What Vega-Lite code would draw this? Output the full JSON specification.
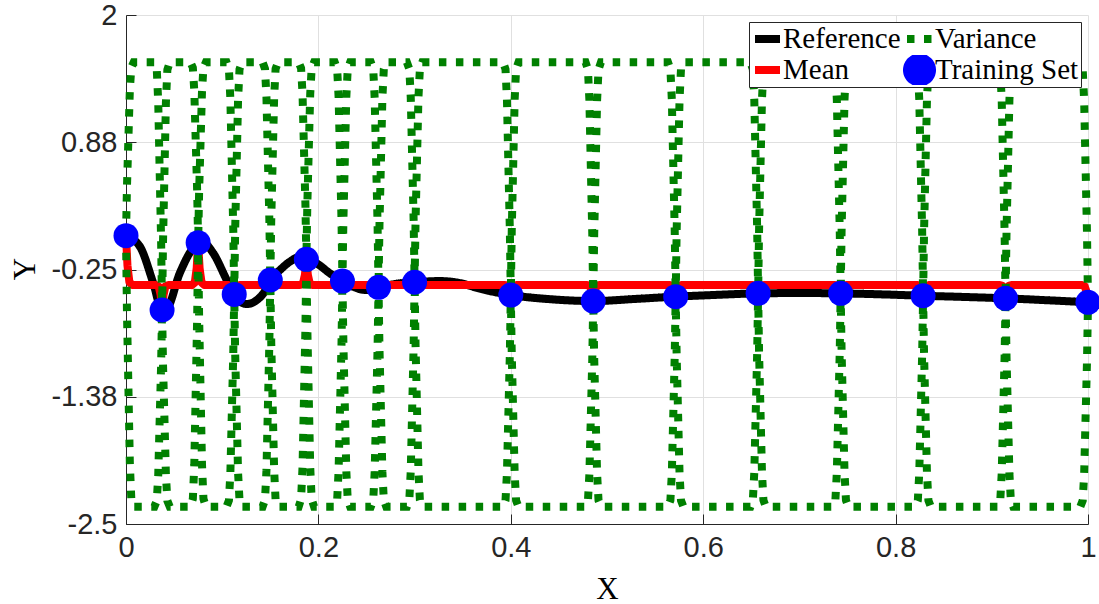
{
  "$schema": "https://vega.github.io/schema/vega-lite/v6.json",
  "width": 962,
  "height": 509,
  "autosize": {"type": "none"},
  "padding": {"left": 126, "top": 15, "right": 11, "bottom": 80},
  "background": "#ffffff",
  "config": {
    "view": {"stroke": null},
    "axis": {
      "domainColor": "#262626",
      "domainWidth": 1,
      "tickColor": "#262626",
      "tickSize": -10,
      "tickWidth": 1,
      "labelFont": "Liberation Sans",
      "labelFontSize": 29,
      "labelColor": "#262626",
      "labelPadding": 19,
      "labelOverlap": false,
      "labelFlush": false,
      "labelBound": false,
      "gridColor": "#e0e0e0",
      "gridWidth": 1,
      "titleFont": "Liberation Serif",
      "titleFontSize": 31,
      "titleFontWeight": "normal",
      "titleColor": "#000000"
    },
    "legend": {
      "orient": "top-right",
      "offset": 7,
      "columns": 2,
      "padding": 2,
      "rowPadding": 1,
      "columnPadding": 2,
      "clipHeight": 30,
      "labelFont": "Liberation Serif",
      "labelFontSize": 29,
      "labelColor": "#000000",
      "labelOffset": -1,
      "labelLimit": 0,
      "strokeColor": "#262626",
      "fillColor": "#ffffff",
      "symbolOpacity": 1
    }
  },
  "datasets": {
    "reference": [
      {"x": 0, "y": 0.049},
      {"x": 0.0146, "y": -0.049},
      {"x": 0.0284, "y": -0.372},
      {"x": 0.0375, "y": -0.608},
      {"x": 0.042, "y": -0.6},
      {"x": 0.056, "y": -0.28},
      {"x": 0.068, "y": -0.08},
      {"x": 0.075, "y": -0.013},
      {"x": 0.079, "y": -0.005},
      {"x": 0.0908, "y": -0.107},
      {"x": 0.1047, "y": -0.343},
      {"x": 0.1125, "y": -0.47},
      {"x": 0.1185, "y": -0.535},
      {"x": 0.1255, "y": -0.555},
      {"x": 0.136, "y": -0.52},
      {"x": 0.146, "y": -0.417},
      {"x": 0.15, "y": -0.343},
      {"x": 0.16, "y": -0.255},
      {"x": 0.1705, "y": -0.18},
      {"x": 0.181, "y": -0.137},
      {"x": 0.1875, "y": -0.16},
      {"x": 0.198, "y": -0.195},
      {"x": 0.212, "y": -0.284},
      {"x": 0.225, "y": -0.352},
      {"x": 0.236, "y": -0.402},
      {"x": 0.25, "y": -0.432},
      {"x": 0.2625, "y": -0.408},
      {"x": 0.28, "y": -0.378},
      {"x": 0.3, "y": -0.363},
      {"x": 0.326, "y": -0.352},
      {"x": 0.347, "y": -0.37},
      {"x": 0.368, "y": -0.42},
      {"x": 0.4, "y": -0.476},
      {"x": 0.44, "y": -0.512},
      {"x": 0.4857, "y": -0.529},
      {"x": 0.53, "y": -0.51},
      {"x": 0.5714, "y": -0.49},
      {"x": 0.615, "y": -0.474},
      {"x": 0.6571, "y": -0.461},
      {"x": 0.7, "y": -0.458},
      {"x": 0.7429, "y": -0.461},
      {"x": 0.786, "y": -0.47},
      {"x": 0.8286, "y": -0.482},
      {"x": 0.872, "y": -0.493},
      {"x": 0.9143, "y": -0.505},
      {"x": 0.958, "y": -0.522},
      {"x": 1, "y": -0.54}
    ],
    "mean": [
      {"x": 0, "y": 0.049}, {"x": 0.0015, "y": -0.213}, {"x": 0.0035, "y": -0.361}, {"x": 0.0065, "y": -0.387},
      {"x": 0.031, "y": -0.387}, {"x": 0.034, "y": -0.4}, {"x": 0.036, "y": -0.475}, {"x": 0.0375, "y": -0.608}, {"x": 0.039, "y": -0.475}, {"x": 0.041, "y": -0.4}, {"x": 0.044, "y": -0.387},
      {"x": 0.0685, "y": -0.387}, {"x": 0.0715, "y": -0.365}, {"x": 0.0735, "y": -0.237}, {"x": 0.075, "y": -0.013}, {"x": 0.0765, "y": -0.237}, {"x": 0.0785, "y": -0.365}, {"x": 0.0815, "y": -0.387},
      {"x": 0.106, "y": -0.387}, {"x": 0.109, "y": -0.392}, {"x": 0.111, "y": -0.42}, {"x": 0.1125, "y": -0.47}, {"x": 0.114, "y": -0.42}, {"x": 0.116, "y": -0.392}, {"x": 0.119, "y": -0.387},
      {"x": 0.1435, "y": -0.387}, {"x": 0.1465, "y": -0.384}, {"x": 0.1485, "y": -0.369}, {"x": 0.15, "y": -0.343}, {"x": 0.1515, "y": -0.369}, {"x": 0.1535, "y": -0.384}, {"x": 0.1565, "y": -0.387},
      {"x": 0.181, "y": -0.387}, {"x": 0.184, "y": -0.373}, {"x": 0.186, "y": -0.296}, {"x": 0.1875, "y": -0.16}, {"x": 0.189, "y": -0.296}, {"x": 0.191, "y": -0.373}, {"x": 0.194, "y": -0.387},
      {"x": 0.2185, "y": -0.387}, {"x": 0.2215, "y": -0.385}, {"x": 0.2235, "y": -0.373}, {"x": 0.225, "y": -0.352}, {"x": 0.2265, "y": -0.373}, {"x": 0.2285, "y": -0.385}, {"x": 0.2315, "y": -0.387},
      {"x": 0.256, "y": -0.387}, {"x": 0.261, "y": -0.395}, {"x": 0.2625, "y": -0.408}, {"x": 0.264, "y": -0.395}, {"x": 0.269, "y": -0.387},
      {"x": 0.2935, "y": -0.387}, {"x": 0.2985, "y": -0.377}, {"x": 0.3, "y": -0.363}, {"x": 0.3015, "y": -0.377}, {"x": 0.3065, "y": -0.387},
      {"x": 0.3935, "y": -0.387}, {"x": 0.3965, "y": -0.392}, {"x": 0.3985, "y": -0.423}, {"x": 0.4, "y": -0.476}, {"x": 0.4015, "y": -0.423}, {"x": 0.4035, "y": -0.392}, {"x": 0.4065, "y": -0.387},
      {"x": 0.4792, "y": -0.387}, {"x": 0.4822, "y": -0.396}, {"x": 0.4842, "y": -0.444}, {"x": 0.4857, "y": -0.529}, {"x": 0.4872, "y": -0.444}, {"x": 0.4892, "y": -0.396}, {"x": 0.4922, "y": -0.387},
      {"x": 0.5649, "y": -0.387}, {"x": 0.5679, "y": -0.393}, {"x": 0.5699, "y": -0.428}, {"x": 0.5714, "y": -0.49}, {"x": 0.5729, "y": -0.428}, {"x": 0.5749, "y": -0.393}, {"x": 0.5779, "y": -0.387},
      {"x": 0.6506, "y": -0.387}, {"x": 0.6536, "y": -0.391}, {"x": 0.6556, "y": -0.417}, {"x": 0.6571, "y": -0.461}, {"x": 0.6586, "y": -0.417}, {"x": 0.6606, "y": -0.391}, {"x": 0.6636, "y": -0.387},
      {"x": 0.7364, "y": -0.387}, {"x": 0.7394, "y": -0.391}, {"x": 0.7414, "y": -0.417}, {"x": 0.7429, "y": -0.461}, {"x": 0.7444, "y": -0.417}, {"x": 0.7464, "y": -0.391}, {"x": 0.7494, "y": -0.387},
      {"x": 0.8221, "y": -0.387}, {"x": 0.8251, "y": -0.393}, {"x": 0.8271, "y": -0.425}, {"x": 0.8286, "y": -0.482}, {"x": 0.8301, "y": -0.425}, {"x": 0.8321, "y": -0.393}, {"x": 0.8351, "y": -0.387},
      {"x": 0.9078, "y": -0.387}, {"x": 0.9108, "y": -0.394}, {"x": 0.9128, "y": -0.434}, {"x": 0.9143, "y": -0.505}, {"x": 0.9158, "y": -0.434}, {"x": 0.9178, "y": -0.394}, {"x": 0.9208, "y": -0.387},
      {"x": 0.9935, "y": -0.387}, {"x": 0.9965, "y": -0.396}, {"x": 0.9985, "y": -0.448}, {"x": 1, "y": -0.54}
    ],
    "variance": [
      {"x": 0, "upper": 0.049, "lower": 0.049}, {"x": 0.001, "upper": 0.478, "lower": -0.622}, {"x": 0.0025, "upper": 0.907, "lower": -1.293}, {"x": 0.004, "upper": 1.337, "lower": -1.964}, {"x": 0.0055, "upper": 1.536, "lower": -2.275}, {"x": 0.008, "upper": 1.582, "lower": -2.347},
      {"x": 0.0295, "upper": 1.582, "lower": -2.347}, {"x": 0.032, "upper": 1.516, "lower": -2.295}, {"x": 0.0335, "upper": 1.232, "lower": -2.069}, {"x": 0.035, "upper": 0.618, "lower": -1.582}, {"x": 0.0365, "upper": 0.005, "lower": -1.095}, {"x": 0.0375, "upper": -0.608, "lower": -0.608}, {"x": 0.0385, "upper": 0.005, "lower": -1.095}, {"x": 0.04, "upper": 0.618, "lower": -1.582}, {"x": 0.0415, "upper": 1.232, "lower": -2.069}, {"x": 0.043, "upper": 1.516, "lower": -2.295}, {"x": 0.0455, "upper": 1.582, "lower": -2.347},
      {"x": 0.067, "upper": 1.582, "lower": -2.347}, {"x": 0.0695, "upper": 1.534, "lower": -2.277}, {"x": 0.071, "upper": 1.327, "lower": -1.974}, {"x": 0.0725, "upper": 0.88, "lower": -1.32}, {"x": 0.074, "upper": 0.434, "lower": -0.667}, {"x": 0.075, "upper": -0.013, "lower": -0.013}, {"x": 0.076, "upper": 0.434, "lower": -0.667}, {"x": 0.0775, "upper": 0.88, "lower": -1.32}, {"x": 0.079, "upper": 1.327, "lower": -1.974}, {"x": 0.0805, "upper": 1.534, "lower": -2.277}, {"x": 0.083, "upper": 1.582, "lower": -2.347},
      {"x": 0.1045, "upper": 1.582, "lower": -2.347}, {"x": 0.107, "upper": 1.52, "lower": -2.291}, {"x": 0.1085, "upper": 1.254, "lower": -2.047}, {"x": 0.11, "upper": 0.679, "lower": -1.521}, {"x": 0.1115, "upper": 0.105, "lower": -0.996}, {"x": 0.1125, "upper": -0.47, "lower": -0.47}, {"x": 0.1135, "upper": 0.105, "lower": -0.996}, {"x": 0.115, "upper": 0.679, "lower": -1.521}, {"x": 0.1165, "upper": 1.254, "lower": -2.047}, {"x": 0.118, "upper": 1.52, "lower": -2.291}, {"x": 0.1205, "upper": 1.582, "lower": -2.347},
      {"x": 0.142, "upper": 1.582, "lower": -2.347}, {"x": 0.1445, "upper": 1.524, "lower": -2.287}, {"x": 0.146, "upper": 1.274, "lower": -2.026}, {"x": 0.1475, "upper": 0.735, "lower": -1.465}, {"x": 0.149, "upper": 0.196, "lower": -0.904}, {"x": 0.15, "upper": -0.343, "lower": -0.343}, {"x": 0.151, "upper": 0.196, "lower": -0.904}, {"x": 0.1525, "upper": 0.735, "lower": -1.465}, {"x": 0.154, "upper": 1.274, "lower": -2.026}, {"x": 0.1555, "upper": 1.524, "lower": -2.287}, {"x": 0.158, "upper": 1.582, "lower": -2.347},
      {"x": 0.1795, "upper": 1.582, "lower": -2.347}, {"x": 0.182, "upper": 1.53, "lower": -2.281}, {"x": 0.1835, "upper": 1.303, "lower": -1.997}, {"x": 0.185, "upper": 0.816, "lower": -1.385}, {"x": 0.1865, "upper": 0.328, "lower": -0.772}, {"x": 0.1875, "upper": -0.16, "lower": -0.16}, {"x": 0.1885, "upper": 0.328, "lower": -0.772}, {"x": 0.19, "upper": 0.816, "lower": -1.385}, {"x": 0.1915, "upper": 1.303, "lower": -1.997}, {"x": 0.193, "upper": 1.53, "lower": -2.281}, {"x": 0.1955, "upper": 1.582, "lower": -2.347},
      {"x": 0.217, "upper": 1.582, "lower": -2.347}, {"x": 0.2195, "upper": 1.524, "lower": -2.287}, {"x": 0.221, "upper": 1.273, "lower": -2.028}, {"x": 0.2225, "upper": 0.731, "lower": -1.469}, {"x": 0.224, "upper": 0.19, "lower": -0.911}, {"x": 0.225, "upper": -0.352, "lower": -0.352}, {"x": 0.226, "upper": 0.19, "lower": -0.911}, {"x": 0.2275, "upper": 0.731, "lower": -1.469}, {"x": 0.229, "upper": 1.273, "lower": -2.028}, {"x": 0.2305, "upper": 1.524, "lower": -2.287}, {"x": 0.233, "upper": 1.582, "lower": -2.347},
      {"x": 0.2545, "upper": 1.582, "lower": -2.347}, {"x": 0.257, "upper": 1.522, "lower": -2.289}, {"x": 0.2585, "upper": 1.264, "lower": -2.037}, {"x": 0.26, "upper": 0.706, "lower": -1.494}, {"x": 0.2615, "upper": 0.149, "lower": -0.951}, {"x": 0.2625, "upper": -0.408, "lower": -0.408}, {"x": 0.2635, "upper": 0.149, "lower": -0.951}, {"x": 0.265, "upper": 0.706, "lower": -1.494}, {"x": 0.2665, "upper": 1.264, "lower": -2.037}, {"x": 0.268, "upper": 1.522, "lower": -2.289}, {"x": 0.2705, "upper": 1.582, "lower": -2.347},
      {"x": 0.292, "upper": 1.582, "lower": -2.347}, {"x": 0.2945, "upper": 1.524, "lower": -2.287}, {"x": 0.296, "upper": 1.271, "lower": -2.03}, {"x": 0.2975, "upper": 0.726, "lower": -1.474}, {"x": 0.299, "upper": 0.182, "lower": -0.919}, {"x": 0.3, "upper": -0.363, "lower": -0.363}, {"x": 0.301, "upper": 0.182, "lower": -0.919}, {"x": 0.3025, "upper": 0.726, "lower": -1.474}, {"x": 0.304, "upper": 1.271, "lower": -2.03}, {"x": 0.3055, "upper": 1.524, "lower": -2.287}, {"x": 0.308, "upper": 1.582, "lower": -2.347},
      {"x": 0.392, "upper": 1.582, "lower": -2.347}, {"x": 0.3945, "upper": 1.52, "lower": -2.291}, {"x": 0.396, "upper": 1.253, "lower": -2.048}, {"x": 0.3975, "upper": 0.676, "lower": -1.524}, {"x": 0.399, "upper": 0.1, "lower": -1.0}, {"x": 0.4, "upper": -0.476, "lower": -0.476}, {"x": 0.401, "upper": 0.1, "lower": -1.0}, {"x": 0.4025, "upper": 0.676, "lower": -1.524}, {"x": 0.404, "upper": 1.253, "lower": -2.048}, {"x": 0.4055, "upper": 1.52, "lower": -2.291}, {"x": 0.408, "upper": 1.582, "lower": -2.347},
      {"x": 0.4777, "upper": 1.582, "lower": -2.347}, {"x": 0.4802, "upper": 1.519, "lower": -2.292}, {"x": 0.4817, "upper": 1.244, "lower": -2.056}, {"x": 0.4832, "upper": 0.653, "lower": -1.547}, {"x": 0.4847, "upper": 0.062, "lower": -1.038}, {"x": 0.4857, "upper": -0.529, "lower": -0.529}, {"x": 0.4867, "upper": 0.062, "lower": -1.038}, {"x": 0.4882, "upper": 0.653, "lower": -1.547}, {"x": 0.4897, "upper": 1.244, "lower": -2.056}, {"x": 0.4912, "upper": 1.519, "lower": -2.292}, {"x": 0.4937, "upper": 1.582, "lower": -2.347},
      {"x": 0.5634, "upper": 1.582, "lower": -2.347}, {"x": 0.5659, "upper": 1.52, "lower": -2.291}, {"x": 0.5674, "upper": 1.25, "lower": -2.05}, {"x": 0.5689, "upper": 0.67, "lower": -1.53}, {"x": 0.5704, "upper": 0.09, "lower": -1.01}, {"x": 0.5714, "upper": -0.49, "lower": -0.49}, {"x": 0.5724, "upper": 0.09, "lower": -1.01}, {"x": 0.5739, "upper": 0.67, "lower": -1.53}, {"x": 0.5754, "upper": 1.25, "lower": -2.05}, {"x": 0.5769, "upper": 1.52, "lower": -2.291}, {"x": 0.5794, "upper": 1.582, "lower": -2.347},
      {"x": 0.6491, "upper": 1.582, "lower": -2.347}, {"x": 0.6516, "upper": 1.521, "lower": -2.29}, {"x": 0.6531, "upper": 1.255, "lower": -2.045}, {"x": 0.6546, "upper": 0.683, "lower": -1.517}, {"x": 0.6561, "upper": 0.111, "lower": -0.989}, {"x": 0.6571, "upper": -0.461, "lower": -0.461}, {"x": 0.6581, "upper": 0.111, "lower": -0.989}, {"x": 0.6596, "upper": 0.683, "lower": -1.517}, {"x": 0.6611, "upper": 1.255, "lower": -2.045}, {"x": 0.6626, "upper": 1.521, "lower": -2.29}, {"x": 0.6651, "upper": 1.582, "lower": -2.347},
      {"x": 0.7349, "upper": 1.582, "lower": -2.347}, {"x": 0.7374, "upper": 1.521, "lower": -2.29}, {"x": 0.7389, "upper": 1.255, "lower": -2.045}, {"x": 0.7404, "upper": 0.683, "lower": -1.517}, {"x": 0.7419, "upper": 0.111, "lower": -0.989}, {"x": 0.7429, "upper": -0.461, "lower": -0.461}, {"x": 0.7439, "upper": 0.111, "lower": -0.989}, {"x": 0.7454, "upper": 0.683, "lower": -1.517}, {"x": 0.7469, "upper": 1.255, "lower": -2.045}, {"x": 0.7484, "upper": 1.521, "lower": -2.29}, {"x": 0.7509, "upper": 1.582, "lower": -2.347},
      {"x": 0.8206, "upper": 1.582, "lower": -2.347}, {"x": 0.8231, "upper": 1.52, "lower": -2.291}, {"x": 0.8246, "upper": 1.252, "lower": -2.049}, {"x": 0.8261, "upper": 0.674, "lower": -1.526}, {"x": 0.8276, "upper": 0.096, "lower": -1.004}, {"x": 0.8286, "upper": -0.482, "lower": -0.482}, {"x": 0.8296, "upper": 0.096, "lower": -1.004}, {"x": 0.8311, "upper": 0.674, "lower": -1.526}, {"x": 0.8326, "upper": 1.252, "lower": -2.049}, {"x": 0.8341, "upper": 1.52, "lower": -2.291}, {"x": 0.8366, "upper": 1.582, "lower": -2.347},
      {"x": 0.9063, "upper": 1.582, "lower": -2.347}, {"x": 0.9088, "upper": 1.519, "lower": -2.292}, {"x": 0.9103, "upper": 1.248, "lower": -2.052}, {"x": 0.9118, "upper": 0.664, "lower": -1.537}, {"x": 0.9133, "upper": 0.079, "lower": -1.021}, {"x": 0.9143, "upper": -0.505, "lower": -0.505}, {"x": 0.9153, "upper": 0.079, "lower": -1.021}, {"x": 0.9168, "upper": 0.664, "lower": -1.537}, {"x": 0.9183, "upper": 1.248, "lower": -2.052}, {"x": 0.9198, "upper": 1.519, "lower": -2.292}, {"x": 0.9223, "upper": 1.582, "lower": -2.347},
      {"x": 0.992, "upper": 1.582, "lower": -2.347}, {"x": 0.9945, "upper": 1.518, "lower": -2.293}, {"x": 0.996, "upper": 1.242, "lower": -2.058}, {"x": 0.9975, "upper": 0.648, "lower": -1.552}, {"x": 0.999, "upper": 0.054, "lower": -1.046}, {"x": 1, "upper": -0.54, "lower": -0.54}
    ],
    "training": [
      {"x": 0, "y": 0.049},
      {"x": 0.0375, "y": -0.608},
      {"x": 0.075, "y": -0.013},
      {"x": 0.1125, "y": -0.47},
      {"x": 0.15, "y": -0.343},
      {"x": 0.1875, "y": -0.16},
      {"x": 0.225, "y": -0.352},
      {"x": 0.2625, "y": -0.408},
      {"x": 0.3, "y": -0.363},
      {"x": 0.4, "y": -0.476},
      {"x": 0.4857, "y": -0.529},
      {"x": 0.5714, "y": -0.49},
      {"x": 0.6571, "y": -0.461},
      {"x": 0.7429, "y": -0.461},
      {"x": 0.8286, "y": -0.482},
      {"x": 0.9143, "y": -0.505},
      {"x": 1, "y": -0.54}
    ]
  },
  "encoding": {
    "x": {
      "field": "x",
      "type": "quantitative",
      "scale": {"domain": [0, 1], "nice": false, "zero": false},
      "axis": {
        "title": "X",
        "values": [0, 0.2, 0.4, 0.6, 0.8, 1],
        "format": ".1~f",
        "grid": true,
        "titleX": 481,
        "titleY": 74,
        "titleBaseline": "alphabetic",
        "titleAlign": "center"
      }
    },
    "y": {
      "field": "y",
      "type": "quantitative",
      "scale": {"domain": [-2.5, 2], "nice": false, "zero": false},
      "axis": {
        "title": "Y",
        "values": [-2.5, -1.375, -0.25, 0.875, 2],
        "format": ".2~f",
        "labelExpr": "replace(datum.label, '\u2212', '-')",
        "grid": true,
        "titleAngle": 270,
        "titleX": -92,
        "titleY": 253.5,
        "titleBaseline": "alphabetic",
        "titleAlign": "center"
      }
    }
  },
  "layer": [
    {
      "data": {"name": "reference"},
      "mark": {"type": "line", "interpolate": "monotone", "strokeJoin": "round", "strokeCap": "round"},
      "encoding": {
        "color": {
          "datum": "Reference",
          "type": "nominal",
          "scale": {
            "domain": ["Reference", "Mean", "Variance", "Training Set"],
            "range": ["#000000", "#ff0000", "#008000", "#0000ff"]
          },
          "legend": {"title": null}
        },
        "strokeDash": {
          "datum": "Reference",
          "type": "nominal",
          "scale": {
            "domain": ["Reference", "Mean", "Variance", "Training Set"],
            "range": [[1, 0], [1, 0], [7.5, 9.5], [1, 0]]
          },
          "legend": {"title": null}
        },
        "strokeWidth": {
          "datum": "Reference",
          "type": "nominal",
          "scale": {
            "domain": ["Reference", "Mean", "Variance", "Training Set"],
            "range": [8, 8, 7.5, 0]
          },
          "legend": {"title": null}
        }
      }
    },
    {
      "data": {"name": "mean"},
      "mark": {"type": "line", "strokeJoin": "round", "strokeCap": "round"},
      "encoding": {
        "color": {"datum": "Mean", "type": "nominal"},
        "strokeDash": {"datum": "Mean", "type": "nominal"},
        "strokeWidth": {"datum": "Mean", "type": "nominal"}
      }
    },
    {
      "data": {"name": "variance"},
      "transform": [{"fold": ["upper", "lower"], "as": ["bound", "y"]}],
      "mark": {"type": "line", "strokeCap": "butt"},
      "encoding": {
        "color": {"datum": "Variance", "type": "nominal"},
        "strokeDash": {"datum": "Variance", "type": "nominal"},
        "strokeWidth": {"datum": "Variance", "type": "nominal"},
        "detail": {"field": "bound", "type": "nominal"}
      }
    },
    {
      "data": {"name": "training"},
      "mark": {"type": "point", "filled": true, "opacity": 1},
      "encoding": {
        "color": {"datum": "Training Set", "type": "nominal"},
        "strokeWidth": {"datum": "Training Set", "type": "nominal"},
        "shape": {
          "datum": "Training Set",
          "type": "nominal",
          "scale": {
            "domain": ["Reference", "Mean", "Variance", "Training Set"],
            "range": ["M-1,0H1", "M-1,0H1", "M-1,0H1", "circle"]
          },
          "legend": {"title": null}
        },
        "size": {
          "datum": "Training Set",
          "type": "nominal",
          "scale": {
            "domain": ["Reference", "Mean", "Variance", "Training Set"],
            "range": [625, 625, 625, 484]
          },
          "legend": {"title": null}
        }
      }
    }
  ]
}
